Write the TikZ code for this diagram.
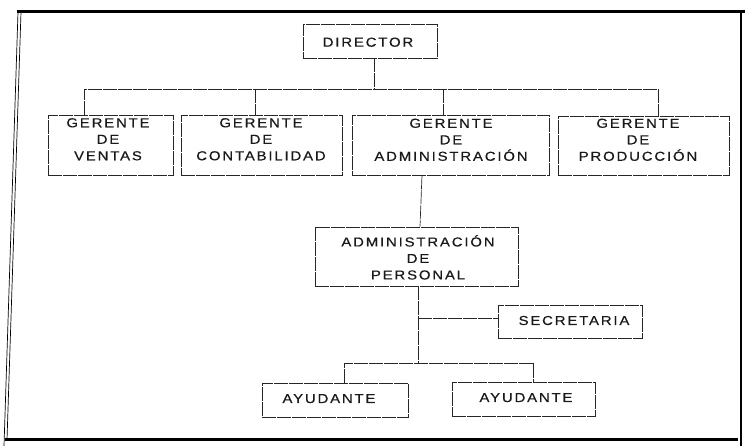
\documentclass[tikz,border=0pt]{standalone}
\usepackage{fontspec}
\newfontfamily\orgfont{Liberation Sans}[LetterSpace=14, FakeStretch=1.15, FakeBold=0.4]
\begin{document}
\begin{tikzpicture}[x=1pt,y=-1pt,
  box/.style={draw=black!85, line width=0.7pt, dash pattern=on 14pt off 1pt,
    inner sep=0pt, rectangle},
  lbl/.style={inner sep=0pt, align=center, text=black!90,
    font=\orgfont\fontsize{13}{16.5}\selectfont},
  conn/.style={draw=black!85, line width=0.7pt, dash pattern=on 14pt off 1pt},
  frame/.style={draw=black, line cap=butt}
]
\useasboundingbox (0,0) rectangle (745,446);
% outer frame
\draw[frame, line width=3pt] (17,12) -- (745,12);
\draw[frame, line width=3pt] (5,440) -- (738,440);
\draw[frame, line width=2.2pt] (741,10) -- (741,446);
\draw[frame, line width=0.7pt] (18,12) -- (4,446);
\draw[frame, line width=0.7pt] (21,12) -- (7,440);

% boxes
\node[box, minimum width=134pt, minimum height=34pt] (dir) at (370,41) {};
\node[box, minimum width=125pt, minimum height=60pt] (g1) at (110.5,145) {};
\node[box, minimum width=161pt, minimum height=60pt] (g2) at (261.5,145) {};
\node[box, minimum width=197pt, minimum height=60pt] (g3) at (450.5,145) {};
\node[box, minimum width=171pt, minimum height=59pt] (g4) at (643.5,145.5) {};
\node[box, minimum width=203pt, minimum height=59pt] (ap) at (416.5,256.5) {};
\node[box, minimum width=144pt, minimum height=33pt] (sec) at (570,321.5) {};
\node[box, minimum width=146pt, minimum height=34pt] (ay1) at (335,400) {};
\node[box, minimum width=143pt, minimum height=34pt] (ay2) at (523.5,399) {};

% texts
\node[lbl, anchor=base] (dirt) at (368,46.7) {DIRECTOR};
\node[lbl, anchor=north] (g1t) at (108,118) {GERENTE\\DE\\VENTAS};
\node[lbl, anchor=north] (g2t) at (261,118) {GERENTE\\DE\\CONTABILIDAD};
\node[lbl, anchor=north] (g3t) at (451,118.5) {GERENTE\\DE\\ADMINISTRACIÓN};
\node[lbl, anchor=north] (g4t) at (638,118.5) {GERENTE\\DE\\PRODUCCIÓN};
\node[lbl, anchor=north] (apt) at (418,235) {ADMINISTRACIÓN\\DE\\PERSONAL};
\node[lbl, anchor=base] (sect) at (574,325) {SECRETARIA};
\node[lbl, anchor=base] (ay1t) at (329,403) {AYUDANTE};
\node[lbl, anchor=base] (ay2t) at (526,402) {AYUDANTE};

% connectors
\coordinate (j0) at (374,89);
\coordinate (b1) at (84,89);
\coordinate (b2) at (255,89);
\coordinate (b3) at (443,89);
\coordinate (b4) at (658,89);
\draw[conn] (j0 |- dir.south) -- (j0);
\draw[conn] (b1 |- g1.north) -- (b1) -- (b4) -- (b4 |- g4.north);
\draw[conn] (b2) -- (b2 |- g2.north);
\draw[conn] (b3) -- (b3 |- g3.north);

\coordinate (c1) at (422,0);
\coordinate (c2) at (420,0);
\draw[conn] (c1 |- g3.south) -- (c2 |- ap.north);

\coordinate (js) at (418,318);
\coordinate (jb) at (418,363);
\coordinate (a1) at (344,363);
\coordinate (a2) at (533,363);
\draw[conn] (jb |- ap.south) -- (jb);
\draw[conn] (js) -- (js -| sec.west);
\draw[conn] (a1 |- ay1.north) -- (a1) -- (a2) -- (a2 |- ay2.north);
\end{tikzpicture}
\end{document}
